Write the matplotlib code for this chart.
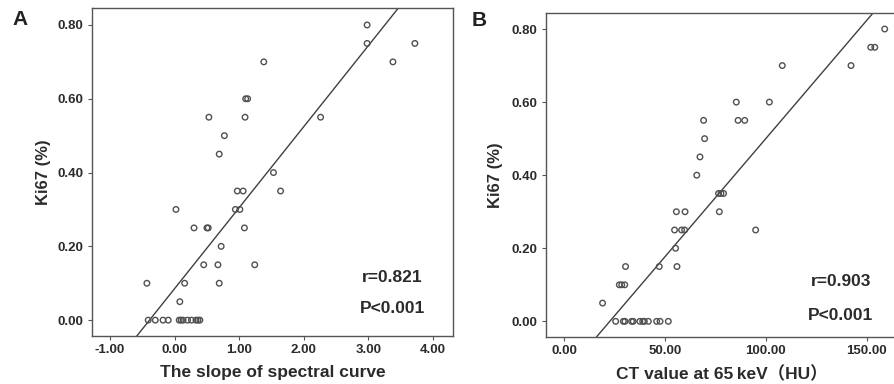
import matplotlib
matplotlib.use("Agg")
import matplotlib.pyplot as plt
import numpy as np

# ---- Panel A data: slope of spectral curve vs Ki67 ----
slope_a = [2.98, 2.98, 3.72, 1.38, 3.38, 1.10, 1.13, 0.53, 1.09, 2.26, 0.77, 0.69, 1.53,
           0.97, 1.06, 1.64, 0.02, 0.94, 1.01, 0.30, 0.50, 0.52, 1.08, 0.72,
           0.45, 0.67, 1.24, -0.43, 0.155, 0.69, 0.08,
           -0.41, -0.30, -0.18, -0.10, 0.07, 0.13, 0.20, 0.26, 0.33, 0.39, 0.10, 0.36]
ki67_a = [0.80, 0.75, 0.75, 0.70, 0.70, 0.60, 0.60, 0.55, 0.55, 0.55, 0.50, 0.45, 0.40,
          0.35, 0.35, 0.35, 0.30, 0.30, 0.30, 0.25, 0.25, 0.25, 0.25, 0.20,
          0.15, 0.15, 0.15, 0.10, 0.10, 0.10, 0.05,
          0, 0, 0, 0, 0, 0, 0, 0, 0, 0, 0, 0]
fit_a = (0.2195, 0.0856)  # slope, intercept
stats_a = ["r=0.821", "P<0.001"]

# ---- Panel B data: CT value at 65 keV vs Ki67 ----
ct_b = [158.9, 152.0, 154.0, 108.1, 142.2, 85.3, 101.7, 69.1, 86.2, 89.5, 69.6, 67.3, 65.7,
        76.5, 77.7, 79.0, 55.6, 59.9, 76.9, 54.7, 58.2, 59.7, 94.9, 55.2,
        30.4, 47.1, 55.9, 27.3, 28.5, 30.0, 19.0,
        25.5, 29.3, 30.1, 33.4, 34.2, 37.5, 38.9, 39.7, 41.7, 45.8, 47.5, 51.6]
ki67_b = [0.80, 0.75, 0.75, 0.70, 0.70, 0.60, 0.60, 0.55, 0.55, 0.55, 0.50, 0.45, 0.40,
          0.35, 0.35, 0.35, 0.30, 0.30, 0.30, 0.25, 0.25, 0.25, 0.25, 0.20,
          0.15, 0.15, 0.15, 0.10, 0.10, 0.10, 0.05,
          0, 0, 0, 0, 0, 0, 0, 0, 0, 0, 0, 0]
fit_b = (0.006465, -0.146)
stats_b = ["r=0.903", "P<0.001"]

xticks_a = [-1, 0, 1, 2, 3, 4]
xticks_b = [0, 50, 100, 150]
yticks = [0, 0.2, 0.4, 0.6, 0.8]

plt.rcParams['font.family'] = ['Liberation Sans', 'Noto Sans CJK SC', 'DejaVu Sans']
TXT = '#2b2b2b'
SP = '#555555'

fig = plt.figure(figsize=(8.95, 3.84), dpi=100)
axA = fig.add_axes([92/895, 48/384, (453-92)/895, (336-8)/384])
axB = fig.add_axes([545.7/895, 47.3/384, (897-545.7)/895, (336.7-13.3)/384])

def style(ax, xt, xlim, ylim, xlabel, ylabelpad):
    ax.set_xlim(*xlim)
    ax.set_ylim(*ylim)
    ax.set_xticks(xt)
    ax.set_xticklabels([f"{v:.2f}" for v in xt])
    ax.set_yticks(yticks)
    ax.set_yticklabels([f"{v:.2f}" for v in yticks])
    for lab in ax.get_xticklabels() + ax.get_yticklabels():
        lab.set_fontweight('bold')
        lab.set_fontsize(9.5)
        lab.set_color(TXT)
    ax.tick_params(direction='out', length=3, width=0.8, color=SP, pad=3)
    for s in ax.spines.values():
        s.set_color(SP)
        s.set_linewidth(1.0)
    ax.set_xlabel(xlabel, fontsize=12.5, fontweight='bold', color=TXT, labelpad=6)
    ax.set_ylabel("Ki67 (%)", fontsize=12, fontweight='bold', color=TXT, labelpad=ylabelpad)

# Panel A
axA.scatter(slope_a, ki67_a, s=16, facecolors='none', edgecolors='#505050', linewidths=1.0, zorder=3)
axA.axline((0, fit_a[1]), slope=fit_a[0], color='#404040', lw=1.0)
style(axA, xticks_a, (-1.28, 4.31), (-0.043, 0.846), "The slope of spectral curve", 5)
axA.text(0.832, 0.177, stats_a[0], transform=axA.transAxes, ha='center', va='center',
         fontsize=12.5, fontweight='bold', color=TXT)
axA.text(0.832, 0.085, stats_a[1], transform=axA.transAxes, ha='center', va='center',
         fontsize=12.5, fontweight='bold', color=TXT)

# Panel B
axB.scatter(ct_b, ki67_b, s=16, facecolors='none', edgecolors='#505050', linewidths=1.0, zorder=3)
axB.axline((0, fit_b[1]), slope=fit_b[0], color='#404040', lw=1.0)
style(axB, xticks_b, (-9.2, 165.0), (-0.042, 0.843), "CT value at 65\u2009keV\uff08HU\uff09", 6)
axB.text(0.84, 0.170, stats_b[0], transform=axB.transAxes, ha='center', va='center',
         fontsize=12.5, fontweight='bold', color=TXT)
axB.text(0.84, 0.067, stats_b[1], transform=axB.transAxes, ha='center', va='center',
         fontsize=12.5, fontweight='bold', color=TXT)

fig.text(20/895, 1 - 19.5/384, "A", fontsize=15, fontweight='bold', color='#222222', ha='center', va='center')
fig.text(479/895, 1 - 20/384, "B", fontsize=15, fontweight='bold', color='#222222', ha='center', va='center')

fig.savefig("out.png", dpi=100)
